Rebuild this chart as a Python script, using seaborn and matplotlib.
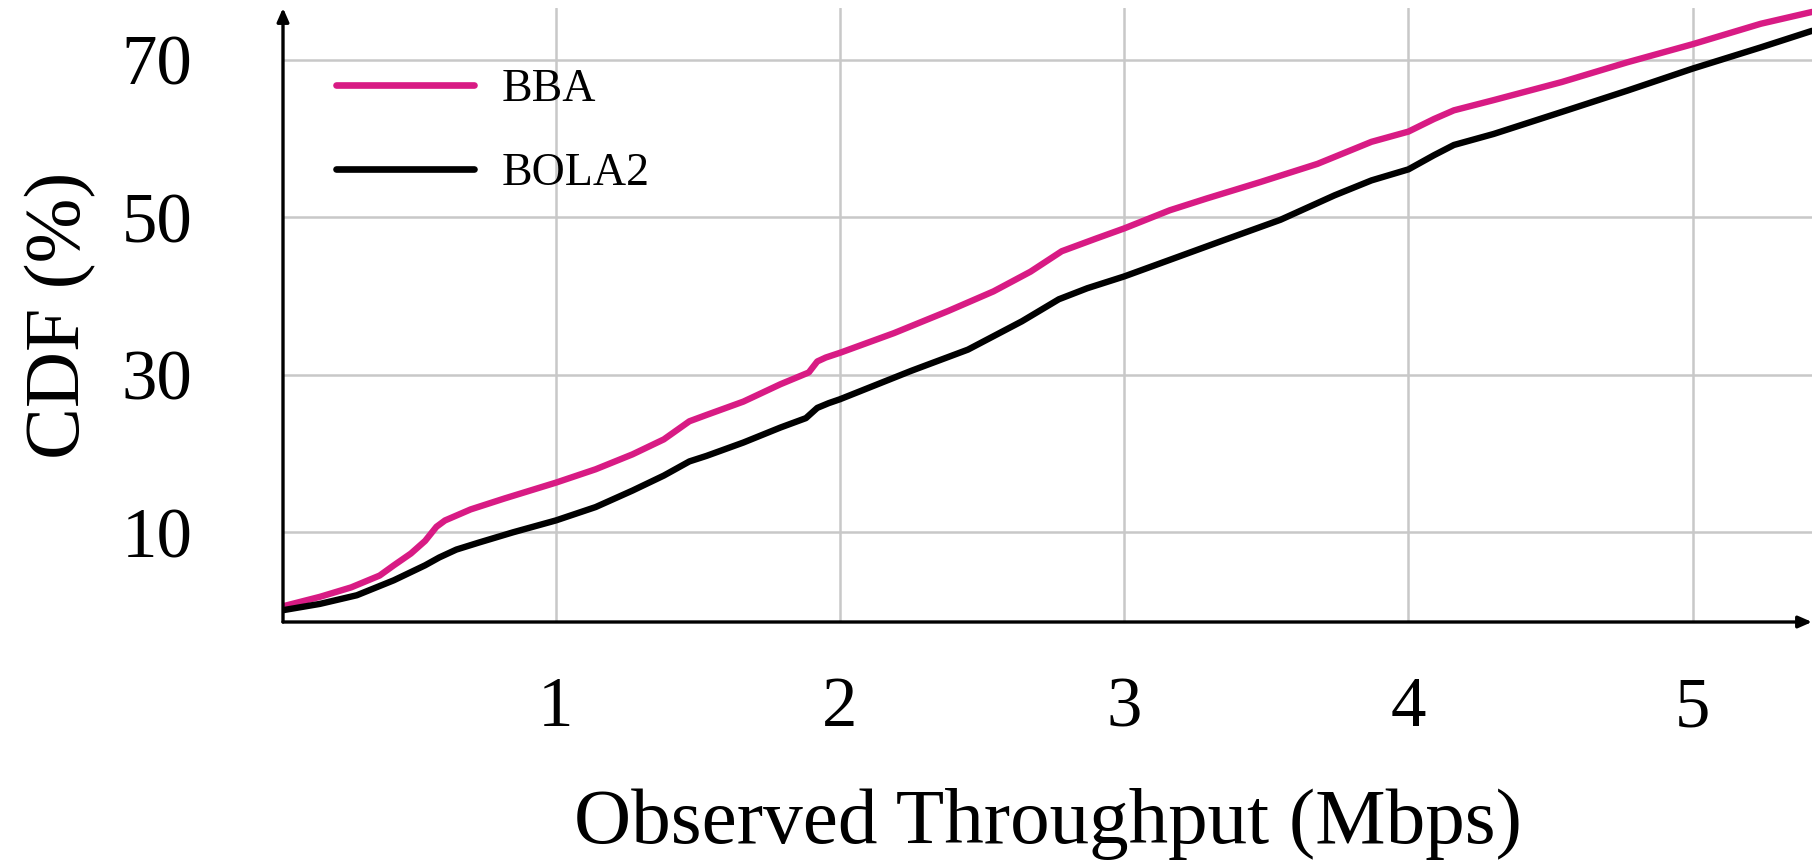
import pandas as pd
import matplotlib
matplotlib.use("Agg")
import matplotlib.pyplot as plt
import seaborn as sns

# values
bba_x = [0.04, 0.17, 0.28, 0.38, 0.43, 0.49, 0.54, 0.56, 0.58, 0.61, 0.70, 0.82, 1.0,
         1.14, 1.27, 1.38, 1.47, 1.53, 1.66, 1.79, 1.89, 1.92, 1.95, 2.0, 2.19, 2.38,
         2.54, 2.67, 2.78, 2.90, 3.0, 3.16, 3.29, 3.48, 3.68, 3.87, 4.0, 4.09, 4.16,
         4.30, 4.54, 4.77, 5.0, 5.24, 5.42]
bba_y = [0.6, 1.8, 3.0, 4.5, 5.8, 7.3, 8.9, 9.8, 10.7, 11.5, 12.9, 14.3, 16.3,
         18.0, 19.9, 21.8, 24.1, 24.9, 26.6, 28.8, 30.3, 31.7, 32.2, 32.8, 35.3, 38.1,
         40.6, 43.1, 45.7, 47.3, 48.6, 50.9, 52.4, 54.5, 56.8, 59.6, 60.9, 62.5, 63.6,
         64.9, 67.2, 69.7, 72.0, 74.6, 76.1]
bola_x = [0.04, 0.17, 0.30, 0.43, 0.54, 0.59, 0.65, 0.73, 0.85, 1.0, 1.14, 1.27,
          1.38, 1.47, 1.53, 1.66, 1.79, 1.88, 1.92, 1.96, 2.0, 2.25, 2.45, 2.64, 2.77,
          2.87, 3.0, 3.16, 3.35, 3.55, 3.74, 3.87, 4.0, 4.09, 4.16, 4.30, 4.54, 4.77,
          5.0, 5.24, 5.42]
bola_y = [0.1, 0.9, 2.0, 3.9, 5.8, 6.8, 7.8, 8.7, 10.0, 11.5, 13.2, 15.3,
          17.2, 19.0, 19.7, 21.4, 23.3, 24.5, 25.8, 26.4, 26.9, 30.5, 33.2, 36.8, 39.6,
          41.0, 42.5, 44.6, 47.1, 49.7, 52.8, 54.7, 56.1, 57.9, 59.2, 60.6, 63.4, 66.1,
          68.9, 71.6, 73.7]
x_ticks = [1, 2, 3, 4, 5]
y_ticks = [10, 30, 50, 70]

df = pd.concat([
    pd.DataFrame({"x": bba_x, "y": bba_y, "algo": "BBA"}),
    pd.DataFrame({"x": bola_x, "y": bola_y, "algo": "BOLA2"}),
])

sns.set_style("white")
plt.rcParams["font.family"] = ["Liberation Serif", "DejaVu Serif"]
plt.rcParams["text.color"] = "black"
plt.rcParams["axes.labelcolor"] = "black"

W, H = 1816, 865
fig = plt.figure(figsize=(W / 100, H / 100), dpi=100)
left, right, top, bottom = 283, 1812, 8, 622
ax = fig.add_axes([left / W, (H - bottom) / H, (right - left) / W, (bottom - top) / H])

sns.lineplot(data=df, x="x", y="y", hue="algo", palette={"BBA": "#D81B84", "BOLA2": "black"},
             linewidth=4.6, ax=ax, sort=False)

ax.set_xlim(0.04, 5.42)
ax.set_ylim(-1.4, 76.6)
ax.set_xticks(x_ticks)
ax.set_yticks(y_ticks)
ax.grid(True, color="#C8C8C8", linewidth=1.8)
for s in ax.spines.values():
    s.set_visible(False)
ax.tick_params(axis="both", direction="inout", length=26, width=1.6, color="#B0B0B0",
               labelsize=51, labelcolor="black")
ax.tick_params(axis="x", pad=26)
ax.tick_params(axis="y", pad=52)

# arrow axes
ax.annotate("", xy=(1.0, 0), xytext=(0, 0), xycoords="axes fraction",
            arrowprops=dict(arrowstyle="-|>,head_length=0.8,head_width=0.35", lw=2.4,
                            color="black", shrinkA=0, shrinkB=0), annotation_clip=False)
ax.annotate("", xy=(0, 1.0), xytext=(0, 0), xycoords="axes fraction",
            arrowprops=dict(arrowstyle="-|>,head_length=0.8,head_width=0.35", lw=2.4,
                            color="black", shrinkA=0, shrinkB=0), annotation_clip=False)

ax.set_xlabel("Observed Throughput (Mbps)", fontsize=57, labelpad=34)
ax.set_ylabel("CDF (%)", fontsize=56, labelpad=18)

leg = ax.legend(title=None, frameon=False, loc="upper left", fontsize=33,
                handlelength=3.0, handletextpad=0.6, labelspacing=0.9,
                bbox_to_anchor=(0.008, 0.968))
for line in leg.get_lines():
    line.set_linewidth(4.8)

fig.savefig("out.png", dpi=100)
